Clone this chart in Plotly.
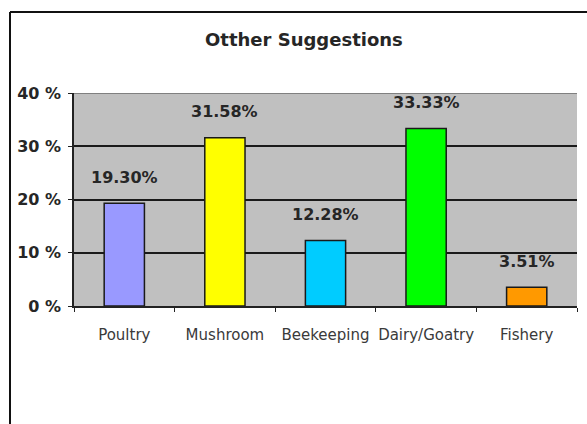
import plotly.graph_objects as go

# Survey results: share of respondents per suggested activity
categories = ["Poultry", "Mushroom", "Beekeeping", "Dairy/Goatry", "Fishery"]
values = [19.30, 31.58, 12.28, 33.33, 3.51]
bar_colors = ["#9999ff", "#ffff00", "#00ccff", "#00ff00", "#ff9900"]
y_ticks = [0, 10, 20, 30, 40]
y_tick_labels = ["0 %", "10 %", "20 %", "30 %", "40 %"]
title_text = "Otther Suggestions"

W, H = 587, 424
L, R, T, B = 74, 10, 93, 118
pw, ph = W - L - R, H - T - B

def px_x(p):
    return (p - L) / pw

def px_y(p):
    return (H - B - p) / ph

fig = go.Figure(
    go.Bar(
        x=categories,
        y=values,
        marker=dict(color=bar_colors, line=dict(color="#1a1a1a", width=1.5)),
        width=0.4,
        hoverinfo="skip",
    )
)

font_family = "DejaVu Sans, Verdana, sans-serif"

# value labels above each bar
for c, v in zip(categories, values):
    fig.add_annotation(
        x=c, y=v, text=f"<b>{v:.2f}%</b>", showarrow=False,
        yshift=26, yanchor="middle",
        font=dict(family=font_family, size=16, color="#262626"),
    )

# chart title
fig.add_annotation(
    xref="paper", yref="paper", x=px_x(304), y=px_y(40),
    text=f"<b>{title_text}</b>", showarrow=False,
    xanchor="center", yanchor="middle",
    font=dict(family=font_family, size=18, color="#262626"),
)

shapes = [
    # gray top edge of the plot area
    dict(type="line", xref="paper", yref="y", x0=0, x1=1, y0=40, y1=40,
         line=dict(color="#808080", width=2), layer="above"),
    # outer chart frame (left and top edges)
    dict(type="line", xref="paper", yref="paper", x0=px_x(10), x1=px_x(10),
         y0=px_y(12), y1=px_y(H + 5), line=dict(color="#111111", width=2)),
    dict(type="line", xref="paper", yref="paper", x0=px_x(10), x1=px_x(W + 5),
         y0=px_y(12), y1=px_y(12), line=dict(color="#111111", width=2)),
]

fig.update_layout(
    width=W, height=H,
    margin=dict(l=L, r=R, t=T, b=B),
    paper_bgcolor="white",
    plot_bgcolor="#c0c0c0",
    showlegend=False,
    shapes=shapes,
    xaxis=dict(
        type="category",
        showline=True, linecolor="#222222", linewidth=1.5,
        ticks="outside", tickson="boundaries", ticklen=4, tickcolor="#222222",
        tickangle=0, ticklabelstandoff=14,
        tickfont=dict(family=font_family, size=15, color="#3a3a3a"),
        showgrid=False, fixedrange=True,
    ),
    yaxis=dict(
        range=[0, 40],
        tickvals=y_ticks, ticktext=y_tick_labels,
        showline=True, linecolor="#222222", linewidth=1.5,
        ticks="outside", ticklen=4, tickcolor="#222222",
        ticklabelstandoff=4,
        tickfont=dict(family=font_family, size=16, color="#262626", weight="bold"),
        showgrid=True, gridcolor="#1a1a1a", gridwidth=1.5,
        zeroline=False, fixedrange=True,
    ),
)

fig.write_html("out.html", config={"displayModeBar": False})
